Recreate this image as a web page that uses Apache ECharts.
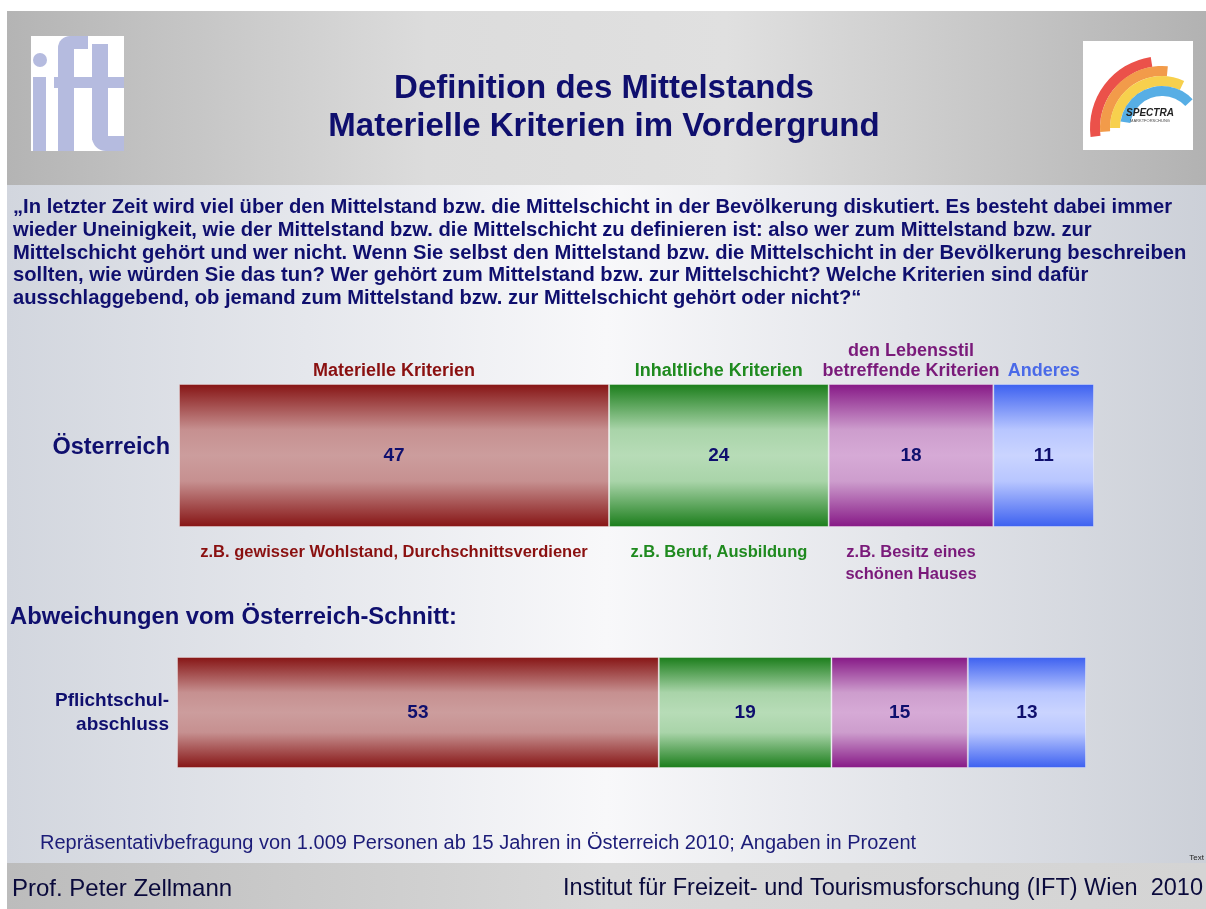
<!DOCTYPE html>
<html><head><meta charset="utf-8">
<script src="https://cdn.jsdelivr.net/npm/echarts@6/dist/echarts.min.js"></script>
<style>html,body{margin:0;padding:0;background:#fff}#c{width:1206px;height:909px}</style>
</head><body><div id="c"></div>
<script>
const categories = ['Materielle Kriterien', 'Inhaltliche Kriterien', 'den Lebensstil\nbetreffende Kriterien', 'Anderes'];
const examples = ['z.B. gewisser Wohlstand, Durchschnittsverdiener', 'z.B. Beruf, Ausbildung', 'z.B. Besitz eines\nschönen Hauses', ''];
const rowOesterreich = ['Österreich'];
const rowPflicht = ['Pflichtschul-\nabschluss'];
const oesterreich = [47, 24, 18, 11];
const pflichtschul = [53, 19, 15, 13];

const FONT = "'Liberation Sans', Arial, sans-serif";
const NAVY = '#0f0f6e';
const catColors = ['#8a1010', '#1f8a1f', '#7a1a7a', '#4a6ae8'];
const gradStops = [
  ['#861414', '#c69090', '#cc9d9d'],
  ['#1a7d1a', '#a9d4a9', '#b7dcb7'],
  ['#861886', '#cd9dcd', '#d6aad6'],
  ['#3c60f0', '#b8c6ff', '#cad4ff']
];
function grad(i) {
  const s = gradStops[i];
  return {type: 'linear', x: 0, y: 0, x2: 0, y2: 1, colorStops: [
    {offset: 0, color: s[0]}, {offset: 0.32, color: s[1]}, {offset: 0.5, color: s[2]},
    {offset: 0.68, color: s[1]}, {offset: 1, color: s[0]}]};
}

const chart = echarts.init(document.getElementById('c'), null, {renderer: 'canvas'});

function makeSeries(vals, g) {
  return vals.map((v, i) => ({
    type: 'bar', stack: 's' + g, xAxisIndex: g, yAxisIndex: g, data: [v],
    barWidth: '100%', z: 5,
    itemStyle: {color: grad(i), borderColor: 'rgba(255,255,255,0.35)', borderWidth: 1},
    label: {show: true, position: 'inside', fontFamily: FONT, fontWeight: 'bold', fontSize: 19, color: NAVY}
  }));
}

const option = {
  animation: false,
  grid: [
    {left: 179, top: 384, width: 915, height: 143},
    {left: 177, top: 657, width: 909, height: 111}
  ],
  xAxis: [
    {gridIndex: 0, type: 'value', min: 0, max: 100, show: false},
    {gridIndex: 1, type: 'value', min: 0, max: 100, show: false}
  ],
  yAxis: [
    {gridIndex: 0, type: 'category', data: rowOesterreich, axisLine: {show: false}, axisTick: {show: false},
      axisLabel: {fontFamily: FONT, fontWeight: 'bold', fontSize: 23.5, color: NAVY, margin: 9, verticalAlign: 'bottom', lineHeight: 16}},
    {gridIndex: 1, type: 'category', data: rowPflicht, axisLine: {show: false}, axisTick: {show: false},
      axisLabel: {fontFamily: FONT, fontWeight: 'bold', fontSize: 19, lineHeight: 24, color: NAVY, margin: 8, align: 'right'}}
  ],
  series: makeSeries(oesterreich, 0).concat(makeSeries(pflichtschul, 1))
};
chart.setOption(option);

// background & decoration
const G = [];
G.push({type: 'rect', z: -10, shape: {x: 7, y: 11, width: 1199, height: 898},
  style: {fill: {type: 'linear', x: 0, y: 0, x2: 1, y2: 0, colorStops: [
    {offset: 0, color: '#d2d6de'}, {offset: 0.5, color: '#f8f8fa'}, {offset: 1, color: '#ccd0d8'}]}}});
G.push({type: 'rect', z: -9, shape: {x: 7, y: 11, width: 1199, height: 174},
  style: {fill: {type: 'linear', x: 0, y: 0, x2: 1, y2: 0, colorStops: [
    {offset: 0, color: '#b4b4b4'}, {offset: 0.35, color: '#dcdcdc'}, {offset: 0.6, color: '#e0e0e0'}, {offset: 1, color: '#b2b2b2'}]}}});
G.push({type: 'rect', z: -9, shape: {x: 7, y: 863, width: 1199, height: 46},
  style: {fill: {type: 'linear', x: 0, y: 0, x2: 1, y2: 0, colorStops: [
    {offset: 0, color: '#bcbcbc'}, {offset: 0.5, color: '#d9d9d9'}, {offset: 1, color: '#d4d4d4'}]}}});

// ift logo
const LAV = '#b5bbdf';
G.push({type: 'rect', z: -8, shape: {x: 31, y: 36, width: 93, height: 115}, style: {fill: '#ffffff'}});
G.push({type: 'circle', z: -7, shape: {cx: 40, cy: 60, r: 7}, style: {fill: LAV}});
G.push({type: 'rect', z: -7, shape: {x: 33, y: 77, width: 13, height: 74}, style: {fill: LAV}});
G.push({type: 'rect', z: -7, shape: {x: 58, y: 48, width: 16, height: 103}, style: {fill: LAV}});
G.push({type: 'rect', z: -7, shape: {x: 58, y: 36, width: 30, height: 13, r: [12, 0, 0, 0]}, style: {fill: LAV}});
G.push({type: 'rect', z: -7, shape: {x: 54, y: 77, width: 70, height: 11}, style: {fill: LAV}});
G.push({type: 'rect', z: -7, shape: {x: 92, y: 44, width: 16, height: 96}, style: {fill: LAV}});
G.push({type: 'rect', z: -7, shape: {x: 92, y: 136, width: 32, height: 15, r: [0, 0, 0, 14]}, style: {fill: LAV}});

// right logo
G.push({type: 'rect', z: -8, shape: {x: 1083, y: 41, width: 110, height: 109}, style: {fill: '#ffffff'}});
const arcs = [['#e8322a', 62, 72, 0.96, 1.45], ['#f08a2a', 52, 62, 0.98, 1.53], ['#f6c82e', 42, 52, 1.0, 1.64], ['#3aa0e0', 32, 42, 1.05, 1.76]];
arcs.forEach(a => G.push({type: 'sector', z: -7, shape: {cx: 1162, cy: 128, r0: a[1], r: a[2], startAngle: Math.PI * a[3], endAngle: Math.PI * a[4]},
  style: {fill: a[0], opacity: 0.85}}));
G.push({type: 'text', z: -6, style: {x: 1150, y: 113, text: 'SPECTRA', fontFamily: FONT, fontStyle: 'italic', fontWeight: 'bold', fontSize: 10, fill: '#222', textAlign: 'center', textVerticalAlign: 'middle'}});
G.push({type: 'text', z: -6, style: {x: 1150, y: 121, text: 'MARKTFORSCHUNG', fontFamily: FONT, fontSize: 4, fill: '#444', textAlign: 'center', textVerticalAlign: 'middle'}});

// title
G.push({type: 'text', style: {x: 604, y: 108, text: 'Definition des Mittelstands\nMaterielle Kriterien im Vordergrund', fontFamily: FONT, fontWeight: 'bold', fontSize: 33, lineHeight: 38, fill: NAVY, textAlign: 'center', textVerticalAlign: 'middle'}});

// question
const q = ['„In letzter Zeit wird viel über den Mittelstand bzw. die Mittelschicht in der Bevölkerung diskutiert. Es besteht dabei immer',
  'wieder Uneinigkeit, wie der Mittelstand bzw. die Mittelschicht zu definieren ist: also wer zum Mittelstand bzw. zur',
  'Mittelschicht gehört und wer nicht. Wenn Sie selbst den Mittelstand bzw. die Mittelschicht in der Bevölkerung beschreiben',
  'sollten, wie würden Sie das tun? Wer gehört zum Mittelstand bzw. zur Mittelschicht? Welche Kriterien sind dafür',
  'ausschlaggebend, ob jemand zum Mittelstand bzw. zur Mittelschicht gehört oder nicht?“'];
G.push({type: 'text', style: {x: 13, y: 196, text: q.join('\n'), fontFamily: FONT, fontWeight: 'bold', fontSize: 20.2, lineHeight: 22.8, fill: NAVY, textAlign: 'left', textVerticalAlign: 'top'}});

G.push({type: 'text', style: {x: 10, y: 617, text: 'Abweichungen vom Österreich-Schnitt:', fontFamily: FONT, fontWeight: 'bold', fontSize: 23.8, fill: NAVY, textAlign: 'left', textVerticalAlign: 'middle'}});

// annotations computed via axis
let cum = 0;
oesterreich.forEach((v, i) => {
  const x = chart.convertToPixel({xAxisIndex: 0}, cum + v / 2);
  cum += v;
  G.push({type: 'text', style: {x: x, y: 381, text: categories[i], fontFamily: FONT, fontWeight: 'bold', fontSize: 18, lineHeight: 20, fill: catColors[i], textAlign: 'center', textVerticalAlign: 'bottom'}});
  if (examples[i]) G.push({type: 'text', style: {x: x, y: 541, text: examples[i], fontFamily: FONT, fontWeight: 'bold', fontSize: 16.5, lineHeight: 22, fill: catColors[i], textAlign: 'center', textVerticalAlign: 'top'}});
});

// footnote & footer
G.push({type: 'text', style: {x: 40, y: 843, text: 'Repräsentativbefragung von 1.009 Personen ab 15 Jahren in Österreich 2010; Angaben in Prozent', fontFamily: FONT, fontSize: 20, fill: '#1c1c78', textAlign: 'left', textVerticalAlign: 'middle'}});
G.push({type: 'text', style: {x: 1204, y: 858, text: 'Text', fontFamily: FONT, fontSize: 8, fill: '#222', textAlign: 'right', textVerticalAlign: 'middle'}});
G.push({type: 'text', style: {x: 12, y: 889, text: 'Prof. Peter Zellmann', fontFamily: FONT, fontSize: 24, fill: '#0a0a3c', textAlign: 'left', textVerticalAlign: 'middle'}});
G.push({type: 'text', style: {x: 1203, y: 889, text: 'Institut für Freizeit- und Tourismusforschung (IFT) Wien  2010', fontFamily: FONT, fontSize: 23.5, fill: '#0a0a3c', textAlign: 'right', textVerticalAlign: 'middle'}});

chart.setOption({graphic: {elements: G}});
</script></body></html>
